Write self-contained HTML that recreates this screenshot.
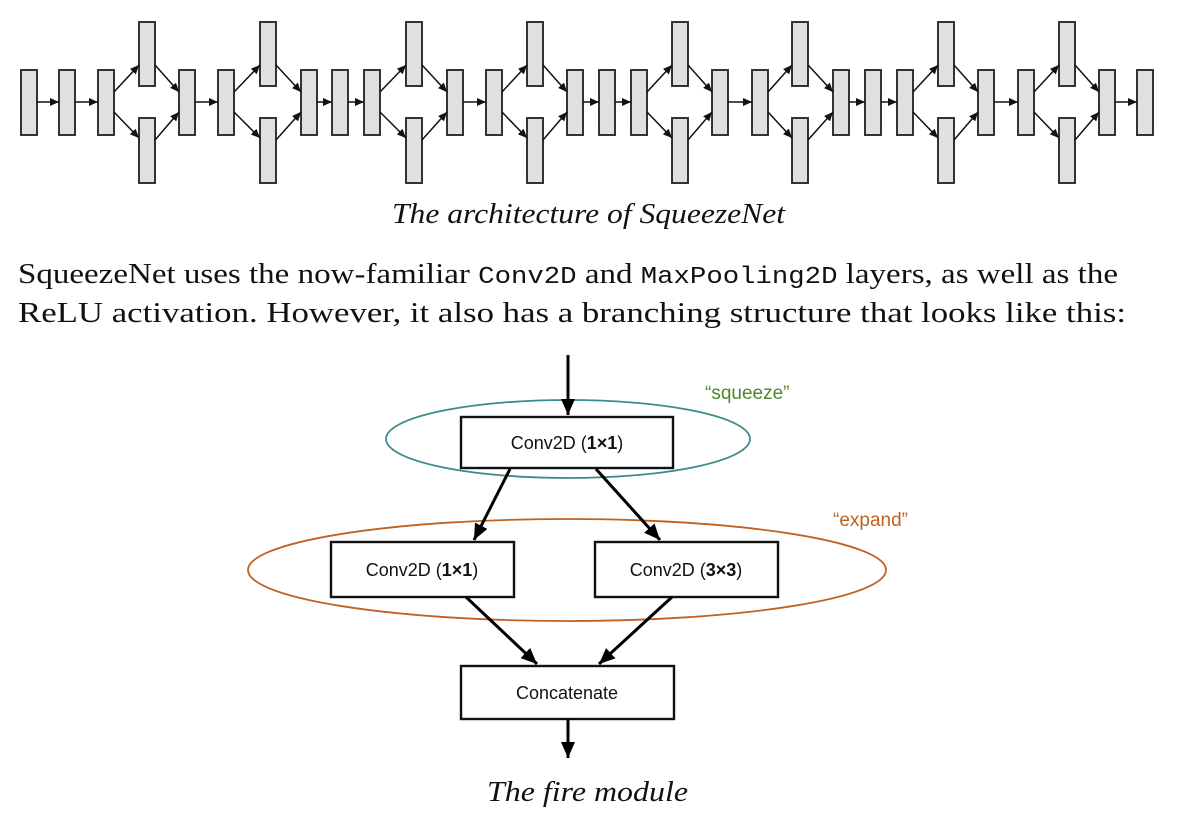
<!DOCTYPE html>
<html><head><meta charset="utf-8"><style>
html,body{margin:0;padding:0;background:#fff;}
svg{display:block;}
</style></head><body>
<svg width="1178" height="822" viewBox="0 0 1178 822" xmlns="http://www.w3.org/2000/svg">
<defs>
<marker id="sa" markerUnits="userSpaceOnUse" markerWidth="9" markerHeight="8" refX="9" refY="4" orient="auto"><path d="M0,0 L9,4 L0,8 Z" fill="#111"/></marker>
<marker id="ba" markerUnits="userSpaceOnUse" markerWidth="16" markerHeight="14" refX="16" refY="7" orient="auto"><path d="M0,0 L16,7 L0,14 Z" fill="#000"/></marker>
</defs>
<g fill="#e0e0e0" stroke="#2a2a2a" stroke-width="1.9">
<rect x="21" y="70" width="16" height="65"/><rect x="59" y="70" width="16" height="65"/><rect x="98" y="70" width="16" height="65"/><rect x="179" y="70" width="16" height="65"/><rect x="218" y="70" width="16" height="65"/><rect x="301" y="70" width="16" height="65"/><rect x="332" y="70" width="16" height="65"/><rect x="364" y="70" width="16" height="65"/><rect x="447" y="70" width="16" height="65"/><rect x="486" y="70" width="16" height="65"/><rect x="567" y="70" width="16" height="65"/><rect x="599" y="70" width="16" height="65"/><rect x="631" y="70" width="16" height="65"/><rect x="712" y="70" width="16" height="65"/><rect x="752" y="70" width="16" height="65"/><rect x="833" y="70" width="16" height="65"/><rect x="865" y="70" width="16" height="65"/><rect x="897" y="70" width="16" height="65"/><rect x="978" y="70" width="16" height="65"/><rect x="1018" y="70" width="16" height="65"/><rect x="1099" y="70" width="16" height="65"/><rect x="1137" y="70" width="16" height="65"/>
<rect x="139" y="22" width="16" height="64"/><rect x="260" y="22" width="16" height="64"/><rect x="406" y="22" width="16" height="64"/><rect x="527" y="22" width="16" height="64"/><rect x="672" y="22" width="16" height="64"/><rect x="792" y="22" width="16" height="64"/><rect x="938" y="22" width="16" height="64"/><rect x="1059" y="22" width="16" height="64"/>
<rect x="139" y="118" width="16" height="65"/><rect x="260" y="118" width="16" height="65"/><rect x="406" y="118" width="16" height="65"/><rect x="527" y="118" width="16" height="65"/><rect x="672" y="118" width="16" height="65"/><rect x="792" y="118" width="16" height="65"/><rect x="938" y="118" width="16" height="65"/><rect x="1059" y="118" width="16" height="65"/>
</g>
<g stroke="#111" stroke-width="1.5" fill="none" marker-end="url(#sa)">
<path d="M37,102H59"/><path d="M75,102H98"/><path d="M195,102H218"/><path d="M317,102H332"/><path d="M348,102H364"/><path d="M463,102H486"/><path d="M583,102H599"/><path d="M615,102H631"/><path d="M728,102H752"/><path d="M849,102H865"/><path d="M881,102H897"/><path d="M994,102H1018"/><path d="M1115,102H1137"/>
<path d="M114,92L139,65"/><path d="M114,112L139,138"/><path d="M155,65L179,92"/><path d="M155,140L179,112"/>
<path d="M234,92L260,65"/><path d="M234,112L260,138"/><path d="M276,65L301,92"/><path d="M276,140L301,112"/>
<path d="M380,92L406,65"/><path d="M380,112L406,138"/><path d="M422,65L447,92"/><path d="M422,140L447,112"/>
<path d="M502,92L527,65"/><path d="M502,112L527,138"/><path d="M543,65L567,92"/><path d="M543,140L567,112"/>
<path d="M647,92L672,65"/><path d="M647,112L672,138"/><path d="M688,65L712,92"/><path d="M688,140L712,112"/>
<path d="M768,92L792,65"/><path d="M768,112L792,138"/><path d="M808,65L833,92"/><path d="M808,140L833,112"/>
<path d="M913,92L938,65"/><path d="M913,112L938,138"/><path d="M954,65L978,92"/><path d="M954,140L978,112"/>
<path d="M1034,92L1059,65"/><path d="M1034,112L1059,138"/><path d="M1075,65L1099,92"/><path d="M1075,140L1099,112"/>
</g>
<text x="392" y="223" textLength="393" lengthAdjust="spacingAndGlyphs" font-family="Liberation Serif, serif" font-style="italic" font-size="29" fill="#111">The architecture of SqueezeNet</text>
<text x="18" y="283" textLength="1100" lengthAdjust="spacingAndGlyphs" font-family="Liberation Serif, serif" font-size="29" fill="#111">SqueezeNet uses the now-familiar <tspan font-family="Liberation Mono, monospace" font-size="24">Conv2D</tspan> and <tspan font-family="Liberation Mono, monospace" font-size="24">MaxPooling2D</tspan> layers, as well as the</text>
<text x="18" y="322" textLength="1108" lengthAdjust="spacingAndGlyphs" font-family="Liberation Serif, serif" font-size="29" fill="#111">ReLU activation. However, it also has a branching structure that looks like this:</text>
<ellipse cx="568" cy="439" rx="182" ry="39" fill="none" stroke="#3d8a8a" stroke-width="1.8"/>
<ellipse cx="567" cy="570" rx="319" ry="51" fill="none" stroke="#c0611f" stroke-width="1.8"/>
<text x="705" y="399" font-family="Liberation Sans, sans-serif" font-size="19" fill="#4a8a2a">“squeeze”</text>
<text x="833" y="526" font-family="Liberation Sans, sans-serif" font-size="19" fill="#c0611f">“expand”</text>
<g fill="#fff" stroke="#111" stroke-width="2.4">
<rect x="461" y="417" width="212" height="51"/>
<rect x="331" y="542" width="183" height="55"/>
<rect x="595" y="542" width="183" height="55"/>
<rect x="461" y="666" width="213" height="53"/>
</g>
<g font-family="Liberation Sans, sans-serif" font-size="18" fill="#111" text-anchor="middle">
<text x="567" y="449">Conv2D (<tspan font-weight="bold">1×1</tspan>)</text>
<text x="422" y="576">Conv2D (<tspan font-weight="bold">1×1</tspan>)</text>
<text x="686" y="576">Conv2D (<tspan font-weight="bold">3×3</tspan>)</text>
<text x="567" y="699">Concatenate</text>
</g>
<g stroke="#000" stroke-width="3" fill="none" marker-end="url(#ba)">
<path d="M568,355V415"/>
<path d="M510,469L474,540"/>
<path d="M596,469L660,540"/>
<path d="M466,597L537,664"/>
<path d="M672,597L599,664"/>
<path d="M568,719V758"/>
</g>
<text x="487" y="801" textLength="201" lengthAdjust="spacingAndGlyphs" font-family="Liberation Serif, serif" font-style="italic" font-size="29" fill="#111">The fire module</text>
</svg>
</body></html>
